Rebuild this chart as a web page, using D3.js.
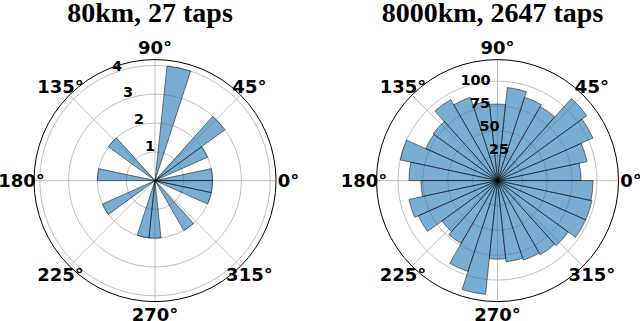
<!DOCTYPE html>
<html><head><meta charset="utf-8">
<script src="https://cdn.jsdelivr.net/npm/d3@7"></script>
<style>body{margin:0;background:#fff}</style>
</head><body><svg id="c" width="640" height="321"></svg>
<script>
// histogram bins (start angle in degrees, counter-clockwise from east), 12° wide
const binStarts = [0,12,24,36,48,60,72,84,96,108,120,132,144,156,168,180,192,204,216,228,240,252,264,276,288,300,312,324,336,348];
const binWidth = 12;
const leftCounts  = [2,0,2,3,0,0,4,0,0,0,0,2,0,0,2,0,0,2,0,0,0,2,2,0,0,2,0,0,2,2];
const rightCounts = [84,92,105,111,86,88,94,77,80,88,94,80,79,100,89,77,91,87,69,73,96,115,79,82,84,86,88,97,97,96];
const thetaTicks  = [0,45,90,135,180,225,270,315];
const thetaLabels = ["0°","45°","90°","135°","180°","225°","270°","315°"];
const leftRTicks  = [1,2,3,4];
const rightRTicks = [25,50,75,100];
const titles = ["80km, 27 taps","8000km, 2647 taps"];
const leftRMax = 4.2, rightRMax = 121.6;

const svg = d3.select("#c");
const rad = d => d * Math.PI / 180;

function drawPolar(cx, cy, counts, rTicks, rMax, title) {
  const R = 121;
  const g = svg.append("g");
  const r = d3.scaleLinear().domain([0, rMax]).range([0, R]);
  const px = (a, rr) => [cx + rr * Math.cos(rad(a)), cy - rr * Math.sin(rad(a))];

  // grid circles
  g.selectAll("circle.grid").data(rTicks).join("circle")
    .attr("cx", cx).attr("cy", cy).attr("r", d => r(d))
    .attr("fill", "none").attr("stroke", "#b0b0b0").attr("stroke-width", 0.8);
  // spokes
  g.selectAll("line.spoke").data(thetaTicks).join("line")
    .attr("x1", cx).attr("y1", cy)
    .attr("x2", d => px(d, R)[0]).attr("y2", d => px(d, R)[1])
    .attr("stroke", "#b0b0b0").attr("stroke-width", 0.8);

  // bars
  const arc = d3.arc().innerRadius(0);
  const bins = binStarts.map((s, i) => ({s, v: counts[i]})).filter(d => d.v > 0);
  g.append("g").attr("transform", `translate(${cx},${cy})`)
    .selectAll("path").data(bins).join("path")
    .attr("d", d => arc({outerRadius: r(d.v), startAngle: rad(90 - d.s - binWidth), endAngle: rad(90 - d.s)}))
    .attr("fill", "#1f77b4").attr("fill-opacity", 0.6)
    .attr("stroke", "#000").attr("stroke-opacity", 0.5).attr("stroke-width", 1);

  // outer circle
  g.append("circle").attr("cx", cx).attr("cy", cy).attr("r", R)
    .attr("fill", "none").attr("stroke", "#000").attr("stroke-width", 1);

  // theta labels
  g.selectAll("text.th").data(thetaTicks).join("text")
    .attr("x", d => px(d, 133.5)[0]).attr("y", d => px(d, 133.5)[1])
    .attr("text-anchor", "middle").attr("dominant-baseline", "central")
    .attr("font-family", "DejaVu Sans").attr("font-weight", "bold").attr("font-size", 18)
    .text((d, i) => thetaLabels[i]);

  // radial labels
  g.selectAll("text.rl").data(rTicks).join("text")
    .attr("x", d => px(112.5, r(d))[0] + 1).attr("y", d => px(112.5, r(d))[1] - 3.3)
    .attr("text-anchor", "start")
    .attr("font-family", "DejaVu Sans").attr("font-weight", "bold").attr("font-size", 14.5)
    .text(d => d);

  // title
  g.append("text").attr("x", cx - 5).attr("y", 22).attr("text-anchor", "middle")
    .attr("font-family", "Liberation Serif").attr("font-weight", "bold").attr("font-size", 28)
    .text(title);
}

drawPolar(155, 180.6, leftCounts, leftRTicks, leftRMax, titles[0]);
drawPolar(497.5, 180.6, rightCounts, rightRTicks, rightRMax, titles[1]);
</script></body></html>
